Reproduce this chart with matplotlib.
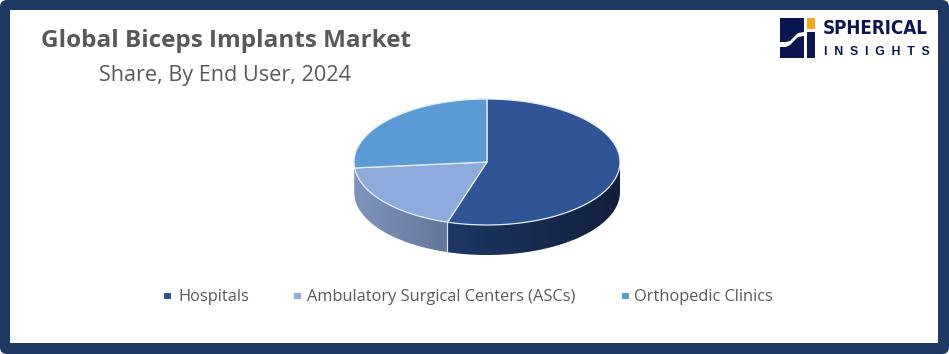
import numpy as np
import matplotlib
matplotlib.use("Agg")
import matplotlib.pyplot as plt
from matplotlib.colors import LinearSegmentedColormap
from matplotlib.patches import FancyBboxPatch, Polygon, Rectangle

# data
labels = ["Hospitals", "Ambulatory Surgical Centers (ASCs)", "Orthopedic Clinics"]
shares = [54.8, 18.7, 26.5]
colors = ["#2f5597", "#8faadc", "#5b9bd5"]
side_left = ["#1d3765", "#7f94bd", "#4a7fae"]
side_right = ["#111f3b", "#63779a", "#3a6a94"]

NAVY = "#1f3864"
CX, CY, RX, RY, DEPTH = 487, 162, 133, 63, 30

fig = plt.figure(figsize=(9.49, 3.54), dpi=100)
ax = fig.add_axes([0, 0, 1, 1])
ax.set_xlim(0, 949)
ax.set_ylim(354, 0)
ax.axis("off")

# frame
ax.add_patch(FancyBboxPatch((0, 0), 949, 354, boxstyle="round,pad=0,rounding_size=7",
                            fc=NAVY, ec="none"))
ax.add_patch(Rectangle((10, 10), 928, 333, fc="white", ec="none"))


def ell(a):
    # a = clockwise angle from 12 o'clock, radians
    return CX + RX * np.sin(a), CY - RY * np.cos(a)


edges = np.radians(np.cumsum([0] + shares) * 3.6)

# side wall, only the part that faces the viewer (90..270 deg)
for i in range(3):
    a0 = max(edges[i], np.pi / 2)
    a1 = min(edges[i + 1], 3 * np.pi / 2)
    if a1 <= a0:
        continue
    a = np.linspace(a0, a1, 120)
    x, y = ell(a)
    pts = np.r_[np.c_[x, y], np.c_[x[::-1], y[::-1] + DEPTH]]
    poly = Polygon(pts, fc="none", ec="none")
    ax.add_patch(poly)
    cmap = LinearSegmentedColormap.from_list("side", [side_left[i], side_right[i]])
    im = ax.imshow(np.linspace(0, 1, 256)[None, :], cmap=cmap, aspect="auto",
                   extent=[x.min(), x.max(), y.max() + DEPTH, y.min()], zorder=2)
    im.set_clip_path(poly)
    # white seam where wedges meet on the wall, skipped at the silhouette
    if np.pi / 2 < edges[i] < 1.4 * np.pi:
        ex, ey = ell(edges[i])
        ax.plot([ex, ex], [ey, ey + DEPTH], color="#dfe4ee", lw=0.9, zorder=3)
ax.set_xlim(0, 949)
ax.set_ylim(354, 0)

# top face
for i in range(3):
    a = np.linspace(edges[i], edges[i + 1], 200)
    x, y = ell(a)
    pts = np.r_[[[CX, CY]], np.c_[x, y]]
    ax.add_patch(Polygon(pts, closed=True, fc=colors[i], ec="#e8edf5", lw=0.9,
                         joinstyle="round", zorder=4))

# titles
ax.text(41, 41, "Global Biceps Implants Market", fontsize=17.5, fontweight="bold",
        family="Open Sans", color="#595959", va="center", ha="left")
ax.text(99, 75, "Share, By End User, 2024", fontsize=15.6, family="Open Sans",
        color="#595959", va="center", ha="left")

# legend
leg_sq = [164, 294, 622]
leg_tx = [178, 307, 634]
for sq, tx, lab, c in zip(leg_sq, leg_tx, labels, colors):
    ax.add_patch(Rectangle((sq, 293), 7, 6, fc=c, ec="none"))
    ax.text(tx, 297, lab, fontsize=11.8, family="Open Sans", color="#595959",
            va="center", ha="left")

# logo
LOGO = "#0b1650"
ax.add_patch(Rectangle((780, 18), 24, 40, fc=LOGO, ec="none"))
ax.add_patch(Rectangle((807, 18), 8, 11, fc="#f5a623", ec="none"))
ax.add_patch(Rectangle((807, 32), 8, 26, fc=LOGO, ec="none"))
sx = np.array([780, 786, 790, 794, 798, 804, 804, 798, 794, 790, 786, 780])
sy = np.array([42, 42, 41, 37, 33, 32, 36, 37, 41, 45, 47, 47])
ax.add_patch(Polygon(np.c_[sx, sy], fc="white", ec="none"))
ax.text(823, 29, "SPHERICAL", fontsize=13.5, fontweight="bold", family="DejaVu Sans",
        stretch="condensed", color=LOGO, va="center", ha="left")
ax.text(824, 52, "I  N  S  I  G  H  T  S", fontsize=8.8, fontweight="bold",
        family="Liberation Sans", color=LOGO, va="center", ha="left")

fig.savefig("out.png", dpi=100)
